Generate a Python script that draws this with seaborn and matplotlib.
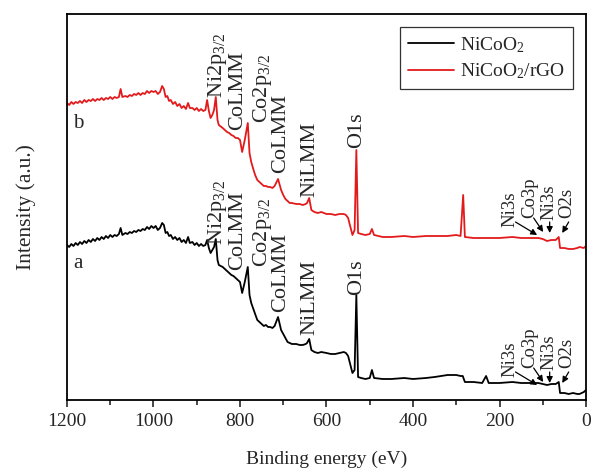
import numpy as np
import pandas as pd
import matplotlib
matplotlib.use("Agg")
import matplotlib.pyplot as plt
import seaborn as sns

# ---------------- data ----------------
energy_a = [1200, 1195, 1190, 1185, 1180, 1175, 1170, 1165, 1160, 1155, 1150, 1145,
            1140, 1135, 1130, 1125, 1120, 1115, 1110, 1105, 1100, 1095, 1090, 1085,
            1080, 1076, 1072, 1065, 1060, 1055, 1050, 1045, 1040, 1035, 1030, 1025,
            1020, 1015, 1010, 1005, 1000, 995, 990, 985, 980, 976, 972, 968, 964,
            960, 955, 950, 945, 940, 935, 930, 925, 920, 916, 910, 905, 900, 895,
            890, 885, 880, 876, 872, 868, 864, 860, 856, 852, 849, 840, 835, 830,
            825, 820, 815, 810, 805, 800, 795, 789, 782, 778, 774, 770, 765, 760,
            755, 750, 745, 740, 735, 730, 725, 720, 712, 705, 700, 695, 690, 685,
            680, 670, 662, 655, 648, 645, 640, 635, 628, 620, 612, 600, 590, 580,
            570, 560, 555, 550, 540, 535, 531, 527, 520, 510, 500, 495, 490, 470,
            450, 420, 400, 370, 350, 335, 320, 300, 290, 285, 280, 260, 240, 231,
            225, 200, 170, 150, 120, 110, 100, 90, 80, 70, 63, 60, 50, 40, 30, 20,
            15, 5, 0]
intensity_a = [155, 153, 156, 154, 157, 155, 158, 156, 159, 157, 160, 158,
               161, 159, 162, 160, 163, 161, 164, 162, 165, 163, 165, 164,
               166, 172, 165, 167, 166, 168, 167, 169, 168, 170, 169, 171,
               170, 173, 171, 174, 172, 174, 170, 172, 177, 175, 167, 168, 164,
               165, 161, 163, 160, 162, 158, 160, 157, 163, 157, 158, 155, 157, 154,
               156, 154, 155, 160, 152, 147, 150, 153, 161, 140, 135, 133, 131, 129,
               127, 125, 124, 122, 120, 118, 107, 118, 133, 105, 97, 92, 86, 80,
               78, 76, 74, 75, 73, 73, 72, 74, 83, 70, 66, 62, 58, 57,
               56, 56, 55, 55, 56, 57, 61, 50, 48, 47, 48, 47, 46, 46,
               47, 48, 47, 44, 27, 30, 105, 23, 22, 21, 22, 30, 22, 21,
               21, 22, 21, 22, 23, 24, 25, 25, 24, 24, 18, 18, 17, 24,
               17, 17, 18, 17, 17, 17, 16, 15, 16, 16, 18, 7, 7, 6, 7, 6,
               6, 8, 10]

energy_b = [1200, 1195, 1190, 1185, 1180, 1175, 1170, 1165, 1160, 1155, 1150, 1145,
            1140, 1135, 1130, 1125, 1120, 1115, 1110, 1105, 1100, 1095, 1090, 1085,
            1080, 1076, 1072, 1065, 1060, 1055, 1050, 1045, 1040, 1035, 1030, 1025,
            1020, 1015, 1010, 1005, 1000, 995, 990, 985, 980, 976, 972, 968, 964,
            960, 955, 950, 945, 940, 935, 930, 925, 920, 916, 910, 905, 900, 895,
            890, 885, 880, 876, 872, 868, 864, 860, 856, 852, 849, 840, 835, 830,
            825, 820, 815, 810, 805, 800, 795, 789, 782, 778, 774, 770, 765, 760,
            755, 750, 745, 740, 735, 730, 725, 720, 712, 705, 700, 695, 690, 685,
            680, 670, 662, 655, 648, 645, 640, 635, 628, 620, 612, 600, 590, 580,
            570, 560, 555, 550, 540, 535, 531, 527, 520, 510, 500, 495, 490, 470,
            450, 420, 400, 370, 350, 320, 300, 290, 284, 280, 260, 240, 200, 170,
            150, 120, 110, 100, 90, 80, 70, 63, 60, 50, 40, 30, 20, 15, 5, 0]
intensity_b = [297, 295, 298, 296, 298, 297, 299, 297, 300, 298, 300, 299,
               301, 299, 301, 300, 302, 300, 302, 301, 303, 301, 303, 302,
               303, 311, 303, 304, 303, 305, 304, 306, 305, 307, 305, 307,
               306, 309, 307, 309, 308, 309, 306, 308, 314, 311, 303, 304, 299,
               300, 296, 298, 294, 296, 292, 294, 291, 297, 292, 292, 290, 292, 289,
               291, 289, 290, 300, 289, 282, 285, 290, 303, 280, 275, 272, 270, 268,
               267, 265, 264, 262, 262, 260, 248, 260, 277, 247, 238, 232, 225, 220,
               218, 216, 214, 214, 213, 213, 212, 214, 221, 210, 205, 201, 199, 197,
               197, 196, 196, 195, 196, 197, 202, 190, 188, 187, 188, 186, 186, 185,
               186, 186, 185, 182, 165, 170, 250, 167, 166, 165, 166, 171, 165, 163,
               163, 164, 163, 164, 164, 164, 165, 164, 205, 163, 162, 162, 162, 163,
               162, 162, 162, 161, 159, 160, 160, 163, 152, 152, 151, 151, 152, 153,
               152, 154]

series_names = ["NiCoO$_2$", "NiCoO$_2$/rGO"]
series_colors = ["black", "#e31a1c"]

x_ticks = [1200, 1000, 800, 600, 400, 200, 0]

# peak labels and the binding energy at which each is written
peak_labels = ["Ni2p$_{3/2}$", "CoLMM", "Co2p$_{3/2}$", "CoLMM", "NiLMM", "O1s"]
peak_energy = [853, 805, 749, 707, 638, 530]
label_base_b = [302, 270, 277, 227, 203, 252]
label_base_a = [155, 130, 133, 88, 65, 105]

low_labels = ["Ni3s", "Co3p", "Ni3s", "O2s"]
low_label_energy = [176, 130, 86, 44]

# ---------------- figure ----------------
sns.set_style("ticks")
plt.rcParams["font.family"] = ["Liberation Serif", "DejaVu Serif"]
plt.rcParams["mathtext.fontset"] = "custom"
plt.rcParams["mathtext.rm"] = "Liberation Serif"
plt.rcParams["mathtext.it"] = "Liberation Serif:italic"
plt.rcParams["mathtext.default"] = "regular"

fig = plt.figure(figsize=(5.95, 4.74), dpi=100)
ax = fig.add_axes([67 / 595, 74 / 474, 519 / 595, 386 / 474])

df = pd.concat([
    pd.DataFrame({"E": energy_a, "I": intensity_a, "s": series_names[0]}),
    pd.DataFrame({"E": energy_b, "I": intensity_b, "s": series_names[1]}),
])
sns.lineplot(data=df, x="E", y="I", hue="s", palette=series_colors,
             estimator=None, sort=False, linewidth=1.3, ax=ax)

ax.set_xlim(1200, 0)
ax.set_ylim(0, 386)
ax.set_xticks(x_ticks)
ax.set_xticklabels([str(t) for t in x_ticks])
ax.set_xticks([1100, 900, 700, 500, 300, 100], minor=True)
ax.set_yticks([])
ax.tick_params(axis="x", which="major", direction="out", length=5, width=1.2,
               labelsize=14, pad=4)
ax.tick_params(axis="x", which="minor", direction="out", length=3.5, width=1.2)
for sp in ax.spines.values():
    sp.set_visible(True)
    sp.set_linewidth(1.3)
    sp.set_color("black")

ax.set_xlabel("Binding energy (eV)", fontsize=14, labelpad=15)
ax.set_ylabel("Intensity (a.u.)", fontsize=15.5, labelpad=22)

# peak annotations
for txt, e, ib, ia in zip(peak_labels, peak_energy, label_base_b, label_base_a):
    for base in (ib, ia):
        ax.text(e, base, txt, rotation=90, ha="center", va="bottom", fontsize=16)

# low-energy labels with arrows
text_base = [173, 182, 180, 182]
tails = [(163, 178), (121, 182), (84, 178), (40, 178)]
heads = [(113, 165), (99, 168), (84, 167), (55, 167)]
for shift in (0, -150):
    for txt, e, b in zip(low_labels, low_label_energy, text_base):
        ax.text(e, b + shift, txt, rotation=90, ha="center", va="bottom", fontsize=13.5)
    for (tx, ty), (hx, hy) in zip(tails, heads):
        ax.annotate("", xy=(hx, hy + shift), xytext=(tx, ty + shift),
                    arrowprops=dict(arrowstyle="-|>", color="black", lw=0.9,
                                    mutation_scale=9, shrinkA=0, shrinkB=0))

ax.text(1175, 277, "b", fontsize=15, ha="center", va="center")
ax.text(1175, 137, "a", fontsize=15, ha="center", va="center")

leg = ax.legend(loc="upper right", bbox_to_anchor=(0.975, 0.966), borderaxespad=0,
                fontsize=14, frameon=True, fancybox=False, edgecolor="black",
                handlelength=2.4, handletextpad=0.3, labelspacing=0.35,
                borderpad=0.4)
leg.get_frame().set_linewidth(0.9)
for h in leg.get_lines():
    h.set_linewidth(1.3)

fig.savefig("out.png", dpi=100)
